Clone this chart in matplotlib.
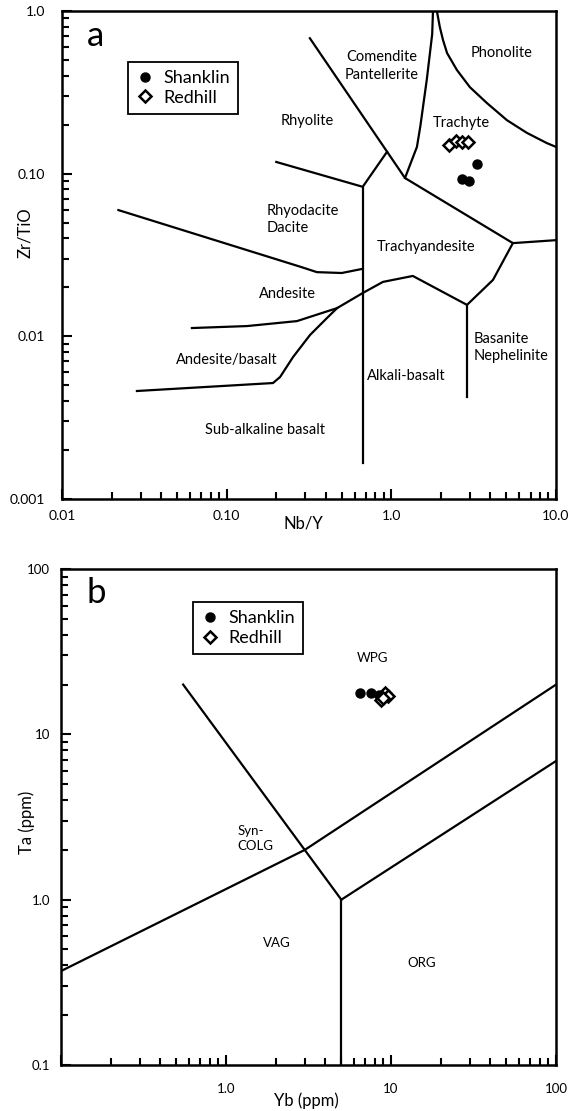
import numpy as np
import matplotlib.pyplot as plt
from matplotlib.ticker import NullFormatter, LogLocator

plt.rcParams['font.family'] = ['Lato', 'DejaVu Sans']

# Panel a: Zr/TiO vs Nb/Y field boundaries (data coordinates)
a_diag_x = [0.32, 1.21, 5.47, 10.0]
a_diag_y = [0.68, 0.094, 0.0374, 0.039]
a_mid_x = [1.21, 1.43, 1.50, 1.64, 1.77, 1.79]
a_mid_y = [0.094, 0.146, 0.196, 0.376, 0.72, 1.0]
a_phon_x = [1.89, 1.97, 2.06, 2.18, 2.50, 3.00, 3.80, 5.04, 6.66, 8.81, 10.0]
a_phon_y = [1.0, 0.796, 0.662, 0.551, 0.434, 0.340, 0.272, 0.213, 0.178, 0.154, 0.146]
a_rhy_x = [0.20, 0.67, 0.94]
a_rhy_y = [0.118, 0.083, 0.136]
a_vert_x = [0.67, 0.67]
a_vert_y = [0.083, 0.00166]
a_dac_x = [0.022, 0.279, 0.353, 0.50, 0.67]
a_dac_y = [0.0597, 0.0268, 0.0248, 0.0245, 0.026]
a_and_x = [0.0615, 0.133, 0.267, 0.468, 0.67, 0.889, 1.35, 2.88, 4.14, 5.47]
a_and_y = [0.01124, 0.01156, 0.0124, 0.0149, 0.01845, 0.0216, 0.0235, 0.0156, 0.0222, 0.0374]
a_bas_x = [0.0285, 0.191, 0.211, 0.253, 0.321, 0.406, 0.468]
a_bas_y = [0.00461, 0.00516, 0.00562, 0.00746, 0.0102, 0.01294, 0.0149]
a_neph_x = [2.88, 2.88]
a_neph_y = [0.0156, 0.00424]

shanklin_a_x = [3.31, 2.68, 2.96]
shanklin_a_y = [0.1146, 0.0927, 0.0902]
redhill_a_x = [2.24, 2.47, 2.68, 2.92]
redhill_a_y = [0.150, 0.158, 0.156, 0.156]

a_labels = [
    ("Comendite\nPantellerite", 0.877, 0.458, 'center'),
    ("Phonolite", 4.69, 0.551, 'center'),
    ("Trachyte", 2.65, 0.205, 'center'),
    ("Rhyolite", 0.308, 0.210, 'center'),
    ("Rhyodacite\nDacite", 0.176, 0.0522, 'left'),
    ("Trachyandesite", 1.62, 0.0354, 'center'),
    ("Andesite", 0.235, 0.0182, 'center'),
    ("Andesite/basalt", 0.1005, 0.00714, 'center'),
    ("Sub-alkaline basalt", 0.171, 0.00265, 'center'),
    ("Alkali-basalt", 1.24, 0.0057, 'center'),
    ("Basanite\nNephelinite", 3.17, 0.00853, 'left'),
]

# Panel b: Ta vs Yb boundaries
b_syn_x = [0.55, 3.0, 5.0]
b_syn_y = [20.0, 2.0, 1.0]
b_vag_x = [0.1, 3.0, 100.0]
b_vag_y = [0.37, 2.0, 20.0]
b_org_x = [5.0, 100.0]
b_org_y = [1.0, 6.9]
b_vert_x = [5.0, 5.0]
b_vert_y = [1.0, 0.1]

shanklin_b_x = [6.5, 7.6, 8.5]
shanklin_b_y = [17.8, 17.8, 17.3]
redhill_b_x = [9.2, 8.7, 9.6, 9.0]
redhill_b_y = [17.8, 16.2, 17.1, 16.6]

b_labels = [
    ("WPG", 7.78, 29.0, 'center'),
    ("Syn-\nCOLG", 1.17, 2.36, 'left'),
    ("VAG", 2.04, 0.547, 'center'),
    ("ORG", 15.4, 0.414, 'center'),
]

fig = plt.figure(figsize=(5.68, 11.11), dpi=100)
ax1 = fig.add_axes([0.1092, 0.5509, 0.8697, 0.4392])
ax2 = fig.add_axes([0.1074, 0.0414, 0.8715, 0.4464])

lw = 1.6
for xs, ys in [(a_diag_x, a_diag_y), (a_mid_x, a_mid_y), (a_phon_x, a_phon_y),
               (a_rhy_x, a_rhy_y), (a_vert_x, a_vert_y), (a_dac_x, a_dac_y),
               (a_and_x, a_and_y), (a_bas_x, a_bas_y), (a_neph_x, a_neph_y)]:
    ax1.plot(xs, ys, color='black', lw=lw, solid_joinstyle='round')

for xs, ys in [(b_syn_x, b_syn_y), (b_vag_x, b_vag_y), (b_org_x, b_org_y),
               (b_vert_x, b_vert_y)]:
    ax2.plot(xs, ys, color='black', lw=lw)

for ax, sx, sy, rx, ry in [(ax1, shanklin_a_x, shanklin_a_y, redhill_a_x, redhill_a_y),
                           (ax2, shanklin_b_x, shanklin_b_y, redhill_b_x, redhill_b_y)]:
    ax.plot(sx, sy, 'o', color='black', ms=6.5, label='Shanklin', zorder=5)
    ax.plot(rx, ry, 'D', mfc='white', mec='black', mew=1.8, ms=6, label='Redhill', zorder=6)

for txt, x, y, ha in a_labels:
    ax1.text(x, y, txt, ha=ha, va='center', fontsize=10.5, linespacing=1.35)
for txt, x, y, ha in b_labels:
    ax2.text(x, y, txt, ha=ha, va='center', fontsize=9.5, linespacing=1.3)

ax1.set_xscale('log')
ax1.set_yscale('log')
ax1.set_xlim(0.01, 10)
ax1.set_ylim(0.001, 1)
ax1.set_xticks([0.01, 0.1, 1, 10])
ax1.set_xticklabels(['0.01', '0.10', '1.0', '10.0'])
ax1.set_yticks([0.001, 0.01, 0.1, 1])
ax1.set_yticklabels(['0.001', '0.01', '0.10', '1.0'])

ax2.set_xscale('log')
ax2.set_yscale('log')
ax2.set_xlim(0.1, 100)
ax2.set_ylim(0.1, 100)
ax2.set_xticks([0.1, 1, 10, 100])
ax2.set_xticklabels(['', '1.0', '10', '100'])
ax2.set_yticks([0.1, 1, 10, 100])
ax2.set_yticklabels(['0.1', '1.0', '10', '100'])

for ax in (ax1, ax2):
    ax.xaxis.set_minor_locator(LogLocator(base=10, subs=np.arange(2, 10), numticks=20))
    ax.yaxis.set_minor_locator(LogLocator(base=10, subs=np.arange(2, 10), numticks=20))
    ax.xaxis.set_minor_formatter(NullFormatter())
    ax.yaxis.set_minor_formatter(NullFormatter())
    ax.tick_params(which='both', direction='in', top=False, right=False, width=1.5)
    ax.tick_params(which='major', length=7)
    ax.tick_params(which='minor', length=5)
    for s in ax.spines.values():
        s.set_linewidth(1.8)

ax1.tick_params(axis='y', which='major', pad=12, labelsize=10)
ax1.tick_params(axis='x', which='major', pad=8, labelsize=10)
ax2.tick_params(axis='y', which='major', pad=8, labelsize=9.5)
ax2.tick_params(axis='x', which='major', pad=13, labelsize=9.5)

ax1.set_ylabel('Zr/TiO', fontsize=12)
ax1.yaxis.set_label_coords(-0.059, 0.545)
ax1.set_xlabel('Nb/Y', fontsize=12)
ax1.xaxis.set_label_coords(0.488, -0.033)
ax2.set_ylabel('Ta (ppm)', fontsize=12)
ax2.yaxis.set_label_coords(-0.053, 0.49)
ax2.set_xlabel('Yb (ppm)', fontsize=12)
ax2.xaxis.set_label_coords(0.495, -0.056)

ax1.text(0.067, 0.949, 'a', transform=ax1.transAxes, fontsize=25, ha='center', va='center')
ax2.text(0.071, 0.952, 'b', transform=ax2.transAxes, fontsize=25, ha='center', va='center')

for ax, anchor in [(ax1, (0.134, 0.8955)), (ax2, (0.267, 0.933))]:
    leg = ax.legend(loc='upper left', bbox_to_anchor=anchor, borderaxespad=0,
                    fontsize=13, frameon=True, fancybox=False, framealpha=1,
                    edgecolor='black', handletextpad=0.5, handlelength=1.0,
                    borderpad=0.45, labelspacing=0.2)
    leg.get_frame().set_linewidth(1.3)

fig.savefig('out.png', dpi=100)
